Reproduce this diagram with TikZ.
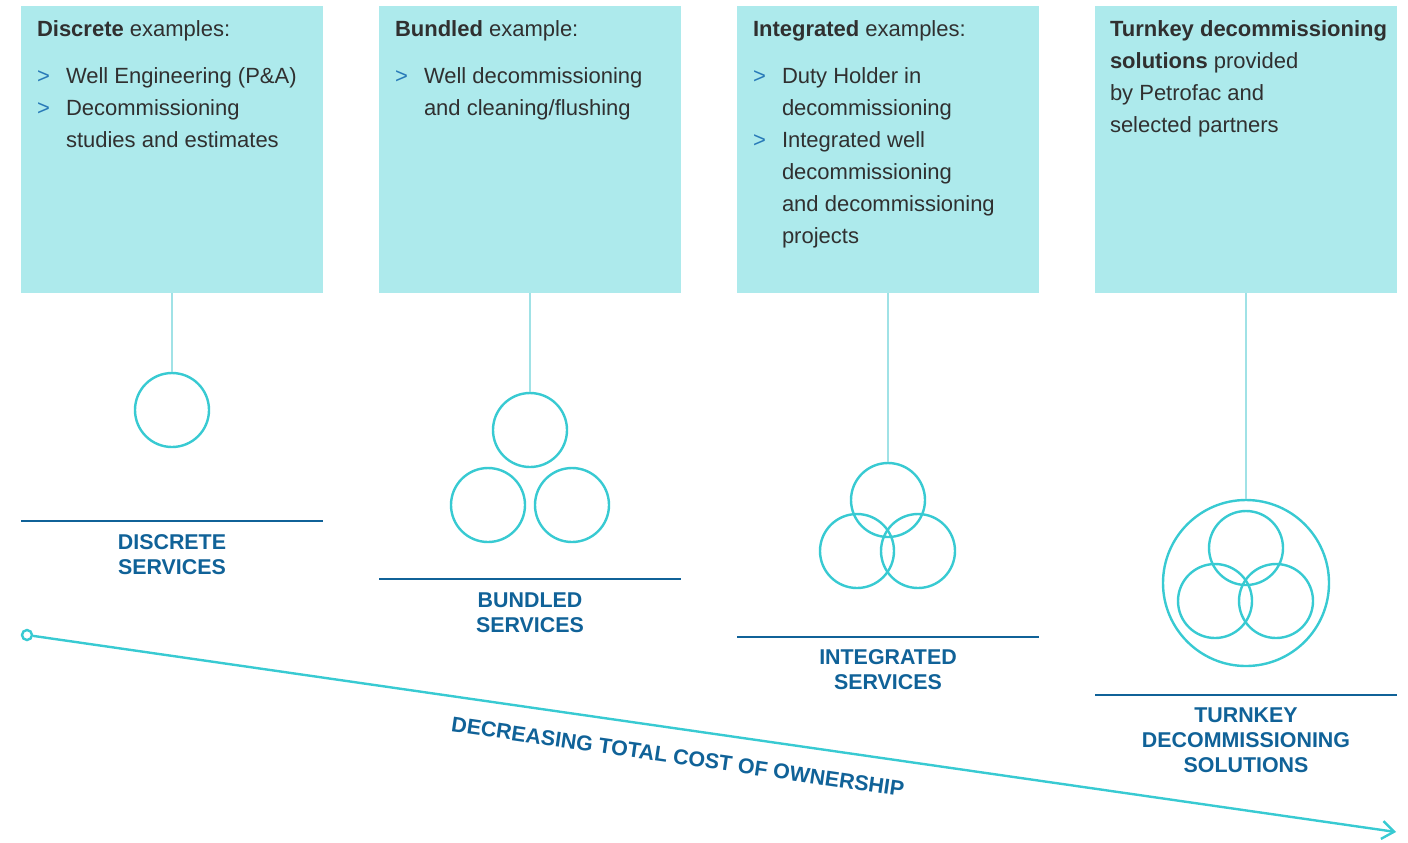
\documentclass[tikz,border=0pt]{standalone}
\usepackage{fontspec}
\setmainfont{Liberation Sans}
\usepackage{xcolor}
\usepackage{tikz}
\usetikzlibrary{arrows.meta, positioning, calc}

\definecolor{paleTeal}{RGB}{173, 234, 236}
\definecolor{stemTeal}{RGB}{160, 226, 230}
\definecolor{ringTeal}{RGB}{56, 202, 210}
\definecolor{deepBlue}{RGB}{16, 98, 152}
\definecolor{bodyGrey}{RGB}{48, 48, 48}
\definecolor{bulletBlue}{RGB}{40, 122, 184}

\newcommand{\bul}{\makebox[14.5pt][l]{\textcolor{bulletBlue}{>}}}
\newcommand{\ind}{\hspace*{14.5pt}}

\tikzset{
    tealbox/.style={rectangle, fill=paleTeal, minimum width=151pt, minimum height=143.5pt, inner sep=0pt},
    note/.style={inner sep=0pt, align=left, text=bodyGrey, font=\fontsize{11}{16}\selectfont},
    stem/.style={draw=stemTeal, line width=0.8pt},
    ring/.style={circle, draw=ringTeal, line width=1.2pt, minimum size=37pt, inner sep=0pt},
    shelf/.style={draw=deepBlue, line width=1.3pt},
    tag/.style={inner sep=0pt, align=center, text=deepBlue, font=\fontsize{10.7}{12.7}\selectfont\bfseries},
    trend/.style={draw=ringTeal, line width=1.2pt}
}

\begin{document}
\begin{tikzpicture}[x=0.5pt, y=-0.5pt]
    \useasboundingbox (0,0) rectangle (1408,842);

    % boxes
    \node[tealbox] (b1) at (172,149.5) {};
    \node[tealbox] (b2) at (530,149.5) {};
    \node[tealbox] (b3) at (888,149.5) {};
    \node[tealbox] (b4) at (1246,149.5) {};

    \node[note, below right=7.5pt and 8pt of b1.north west] (t1) {
        \textbf{Discrete} examples:\\[7.5pt]
        \bul Well Engineering (P\&A)\\
        \bul Decommissioning\\
        \ind studies and estimates
    };
    \node[note, below right=7.5pt and 8pt of b2.north west] (t2) {
        \textbf{Bundled} example:\\[7.5pt]
        \bul Well decommissioning\\
        \ind and cleaning/flushing
    };
    \node[note, below right=7.5pt and 8pt of b3.north west] (t3) {
        \textbf{Integrated} examples:\\[7.5pt]
        \bul Duty Holder in\\
        \ind decommissioning\\
        \bul Integrated well\\
        \ind decommissioning\\
        \ind and decommissioning\\
        \ind projects
    };
    \node[note, below right=7.5pt and 7.5pt of b4.north west] (t4) {
        \textbf{Turnkey decommissioning}\\
        \textbf{solutions} provided\\
        by Petrofac and\\
        selected partners
    };

    % rings
    \node[ring] (r1) at (172,410) {};

    \node[ring] (r2a) at (530,430) {};
    \node[ring] (r2b) at (488,505) {};
    \node[ring] (r2c) at (572,505) {};

    \node[ring] (r3a) at (888,500) {};
    \node[ring] (r3b) at (857,551) {};
    \node[ring] (r3c) at (918,551) {};

    \node[ring, minimum size=83pt] (r4) at (1246,583) {};
    \node[ring] (r4a) at (1246,548) {};
    \node[ring] (r4b) at (1215,601) {};
    \node[ring] (r4c) at (1276,601) {};

    % stems
    \draw[stem] (b1.south) -- (r1.north);
    \draw[stem] (b2.south) -- (r2a.north);
    \draw[stem] (b3.south) -- (r3a.north);
    \draw[stem] (b4.south) -- (r4.north);

    % shelves and labels
    \draw[shelf] (21,521) -- (323,521);
    \draw[shelf] (379,579) -- (681,579);
    \draw[shelf] (737,637) -- (1039,637);
    \draw[shelf] (1095,695) -- (1397,695);

    \node[tag, anchor=north] (l1) at (172,534) {DISCRETE\\SERVICES};
    \node[tag, anchor=north] (l2) at (530,592) {BUNDLED\\SERVICES};
    \node[tag, anchor=north] (l3) at (888,649) {INTEGRATED\\SERVICES};
    \node[tag, anchor=north] (l4) at (1246,707) {TURNKEY\\DECOMMISSIONING\\SOLUTIONS};

    % cost arrow
    \node[circle, draw=ringTeal, line width=1.2pt, fill=white, minimum size=5pt, inner sep=0pt] (start) at (27,635) {};
    \coordinate (finish) at (1396,832);
    \draw[trend, -{Straight Barb[length=6pt, width=9pt]}] (start) -- (finish)
        node[tag, pos=0.476, sloped, below=9.5pt] (cost) {DECREASING TOTAL COST OF OWNERSHIP};
\end{tikzpicture}
\end{document}
